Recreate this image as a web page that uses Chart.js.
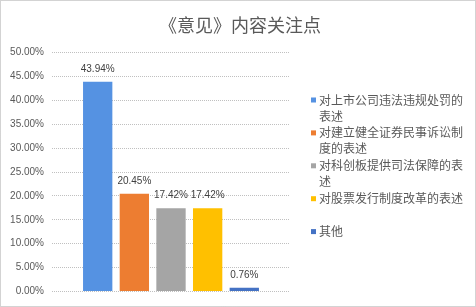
<!DOCTYPE html>
<html><head><meta charset="utf-8">
<script src="https://cdn.jsdelivr.net/npm/chart.js@4.4.1/dist/chart.umd.min.js"></script>
<style>html,body{margin:0;padding:0;background:#fff}canvas{display:block}</style>
</head><body>
<canvas id="c" width="476" height="307"></canvas>
<script>
const titleText = '《意见》内容关注点';
const categories = [''];
const seriesNames = ['对上市公司违法违规处罚的表述', '对建立健全证券民事诉讼制度的表述', '对科创板提供司法保障的表述', '对股票发行制度改革的表述', '其他'];
const seriesValues = [43.94, 20.45, 17.42, 17.42, 0.76];
const seriesColors = ['#5592E2', '#ED7D31', '#A5A5A5', '#FFC000', '#4472C4'];
const yTickLabels = ['0.00%', '5.00%', '10.00%', '15.00%', '20.00%', '25.00%', '30.00%', '35.00%', '40.00%', '45.00%', '50.00%'];

const CJK = '"Noto Sans CJK SC", "Noto Sans", sans-serif';
const NUM = '"Liberation Sans", Arial, sans-serif';

const decor = {
  id: 'decor',
  afterDraw(chart) {
    const ctx = chart.ctx;
    ctx.save();
    // frame
    ctx.strokeStyle = '#a6a6a6';
    ctx.lineWidth = 1;
    ctx.setLineDash([1, 1]);
    ctx.strokeRect(0.5, 0.5, chart.width - 1, chart.height - 1);
    ctx.setLineDash([]);
    // title
    ctx.fillStyle = '#595959';
    ctx.font = '18px ' + CJK;
    ctx.textAlign = 'center';
    ctx.textBaseline = 'middle';
    ctx.fillText(titleText, 240, 25);
    // data labels
    ctx.font = '10px ' + NUM;
    ctx.fillStyle = '#404040';
    ctx.textBaseline = 'alphabetic';
    chart.data.datasets.forEach((ds, i) => {
      const meta = chart.getDatasetMeta(i);
      meta.data.forEach((bar, j) => {
        ctx.fillText(ds.data[j].toFixed(2) + '%', bar.x, bar.y - 10);
      });
    });
    // legend
    ctx.font = '12px ' + CJK;
    ctx.textAlign = 'left';
    ctx.textBaseline = 'middle';
    const maxW = 148;
    chart.data.datasets.forEach((ds, i) => {
      const y0 = 100 + i * 32.9;
      ctx.fillStyle = ds.backgroundColor;
      ctx.fillRect(311, y0 - 2.5, 5, 5);
      ctx.fillStyle = '#595959';
      const lines = [];
      let cur = '';
      for (const ch of ds.label) {
        if (ctx.measureText(cur + ch).width > maxW) { lines.push(cur); cur = ch; }
        else cur += ch;
      }
      if (cur) lines.push(cur);
      lines.forEach((ln, k) => ctx.fillText(ln, 319, y0 + k * 16));
    });
    ctx.restore();
  }
};

new Chart(document.getElementById('c'), {
  type: 'bar',
  data: {
    labels: categories,
    datasets: seriesNames.map((name, i) => ({
      label: name,
      data: [seriesValues[i]],
      backgroundColor: seriesColors[i],
      borderWidth: 0,
      categoryPercentage: 0.77,
      barPercentage: 0.8
    }))
  },
  options: {
    responsive: false,
    animation: false,
    events: [],
    layout: { padding: { left: 0, right: 186, top: 52.7, bottom: 15.5 } },
    plugins: { legend: { display: false }, title: { display: false }, tooltip: { enabled: false } },
    scales: {
      x: { display: false },
      y: {
        min: 0, max: 50,
        afterFit(scale) { scale.width = 52; },
        ticks: {
          stepSize: 5,
          padding: 8,
          color: '#595959',
          font: { family: NUM, size: 10 },
          callback: (v, idx) => yTickLabels[idx]
        },
        grid: { color: '#c0c0c0', lineWidth: 1, drawTicks: false },
        border: { display: false, dash: [1, 1] }
      }
    }
  },
  plugins: [decor]
});
</script>
</body></html>
